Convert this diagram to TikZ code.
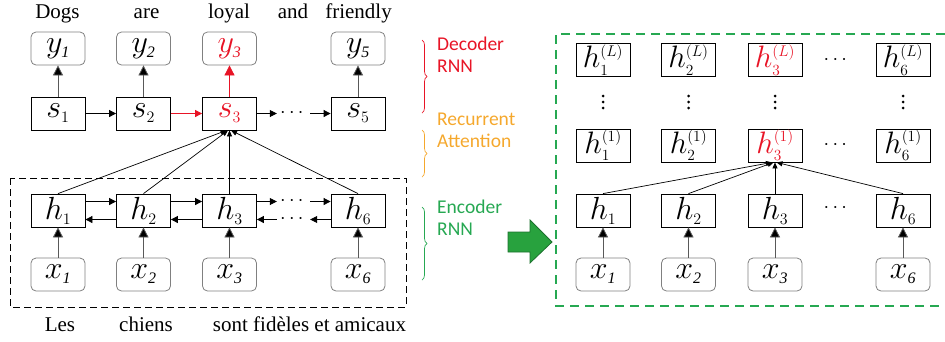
\RequirePackage{fix-cm}
\documentclass[tikz,border=0pt]{standalone}
\usepackage{amsmath}
\usepackage{fontspec}
\setmainfont{Liberation Serif}
\newfontfamily\labelfont{Carlito}
\usetikzlibrary{arrows.meta,decorations.pathreplacing}

\definecolor{decred}{RGB}{232,20,38}
\definecolor{attorange}{RGB}{245,168,45}
\definecolor{encgreen}{RGB}{38,168,82}
\definecolor{arrowfill}{RGB}{40,162,62}
\definecolor{arrowedge}{RGB}{28,112,45}

% state symbol with small upright index / small italic index / layer index
\newcommand\stv[2]{$#1_{\scriptscriptstyle #2}$}
\newcommand\obv[2]{$#1_{\scriptscriptstyle\mathit{#2}}$}
\newcommand\lyv[2]{$#1_{\scriptscriptstyle #2}^{\scriptscriptstyle (L)}$}
\newcommand\lyo[2]{$#1_{\scriptscriptstyle #2}^{\scriptscriptstyle (1)}$}

\begin{document}
\begin{tikzpicture}[x=1pt,y=-1pt,
  box/.style={draw,line width=0.8pt,minimum width=54pt,minimum height=33pt,
    inner sep=0pt,font=\fontsize{32}{34}\selectfont},
  lbox/.style={box,font=\fontsize{31}{34}\selectfont},
  rbox/.style={box,draw=black!50,rounded corners=5pt},
  word/.style={anchor=base,inner sep=0pt,font=\fontsize{21}{24}\selectfont},
  lab/.style={anchor=base west,inner sep=0pt,align=left,
    font=\labelfont\fontsize{19.5}{22}\selectfont},
  hdots/.style={minimum width=33pt,minimum height=0pt,inner sep=0pt,
    font=\fontsize{20}{20}\selectfont},
  dotmark/.style={fill=black,circle,inner sep=0pt,minimum size=3pt},
  vert/.style={line width=0.8pt,draw=black!65,-{Triangle[length=10pt,width=10pt,fill=black]}},
  horiz/.style={line width=0.8pt,-{Triangle[length=7pt,width=7pt]}},
  att/.style={line width=0.7pt,-{Triangle[length=6pt,width=5pt]}},
  brc/.style={line width=0.7pt,decorate,decoration={brace,amplitude=5pt}}]

\useasboundingbox (0,0) rectangle (945,341);

% ---------------- left: encoder-decoder ----------------
% target words
\node[word] (w1) at (57.5,18) {Dogs};
\node[word] (w2) at (146.5,18) {are};
\node[word] (w3) at (229,18) {loyal};
\node[word] (w4) at (293,18) {and};
\node[word] (w5) at (358.5,18) {friendly};

% outputs
\node[rbox] (y1) at (58,48.5) {\obv{y}{1}};
\node[rbox] (y2) at (143.5,48.5) {\obv{y}{2}};
\node[rbox,text=decred] (y3) at (229.5,48.5) {\obv{y}{3}};
\node[rbox] (y5) at (358,48.5) {\obv{y}{5}};

% decoder states
\node[box] (s1) at (58,113.5) {\stv{s}{1}};
\node[box] (s2) at (143.5,113.5) {\stv{s}{2}};
\node[box,text=decred] (s3) at (229.5,113.5) {\stv{s}{3}};
\node[hdots] (sd) at (293.5,113.5) {$\cdots$};
\node[box] (s5) at (358,113.5) {\stv{s}{5}};

% encoder states
\node[box] (h1) at (58,210.5) {\stv{h}{1}};
\node[box] (h2) at (143.5,210.5) {\stv{h}{2}};
\node[box] (h3) at (229.5,210.5) {\stv{h}{3}};
\node[hdots] (hu) at (293.5,201.5) {$\cdots$};
\node[hdots] (hl) at (293.5,219.5) {$\cdots$};
\node[box] (h6) at (358,210.5) {\stv{h}{6}};

% inputs
\node[rbox] (x1) at (58,274.5) {\obv{x}{1}};
\node[rbox] (x2) at (143.5,274.5) {\obv{x}{2}};
\node[rbox] (x3) at (229.5,274.5) {\obv{x}{3}};
\node[rbox] (x6) at (358,274.5) {\obv{x}{6}};

% source words
\node[word] (b1) at (60,331) {Les};
\node[word] (b2) at (146,331) {chiens};
\node[word] (b3) at (309.5,331) {sont fidèles et amicaux};

% decoder connections
\draw[vert] (s1) -- (y1);
\draw[vert] (s2) -- (y2);
\draw[vert,draw=decred,-{Triangle[length=10pt,width=10pt,fill=decred]}] (s3) -- (y3);
\draw[vert] (s5) -- (y5);
\draw[horiz] (s1) -- (s2);
\draw[horiz,decred] (s2) -- (s3);
\draw[horiz] (s3) -- (sd);
\draw[horiz] (sd) -- (s5);

% bidirectional encoder
\draw[horiz] ([yshift=9pt]h1.east) -- ([yshift=9pt]h2.west);
\draw[horiz] ([yshift=-9pt]h2.west) -- ([yshift=-9pt]h1.east);
\draw[horiz] ([yshift=9pt]h2.east) -- ([yshift=9pt]h3.west);
\draw[horiz] ([yshift=-9pt]h3.west) -- ([yshift=-9pt]h2.east);
\draw[horiz] ([yshift=9pt]h3.east) -- (hu.west);
\draw[horiz] (hu.east) -- ([yshift=9pt]h6.west);
\draw[horiz] ([yshift=-9pt]h6.west) -- (hl.east);
\draw[horiz] (hl.west) -- ([yshift=-9pt]h3.east);

% inputs to encoder
\draw[vert] (x1) -- (h1);
\draw[vert] (x2) -- (h2);
\draw[vert] (x3) -- (h3);
\draw[vert] (x6) -- (h6);

% attention into s3
\draw[att] (h1.north) -- ([xshift=-3pt]s3.south);
\draw[att] (h2.north) -- ([xshift=-1.5pt]s3.south);
\draw[att] (h3.north) -- (s3.south);
\draw[att] (h6.north) -- ([xshift=1.5pt]s3.south);

% encoder frame
\draw[line width=0.8pt,dash pattern=on 7pt off 4pt] (10,178) rectangle (406,307);

% ---------------- braces and labels ----------------
\draw[brc,decred] (422,40) -- (422,113);
\node[lab,text=decred] (dec) at (437,72) {Decoder\\RNN};
\draw[brc,attorange] (422,130) -- (422,177);
\node[lab,text=attorange] (att) at (437,147) {Recurrent\\Attention};
\draw[brc,encgreen] (422,207) -- (422,280);
\node[lab,text=encgreen] (enc) at (437,235) {Encoder\\RNN};

% transition arrow
\draw[line width=0.8pt,draw=arrowedge,fill=arrowfill]
  (508,232) -- (530,232) -- (530,220) -- (552,242) -- (530,263) -- (530,252) -- (508,252) -- cycle;

% ---------------- right: stacked recurrent attention ----------------
\draw[encgreen,line width=1.2pt,dash pattern=on 9pt off 6pt]
  (945,34) -- (556,34) -- (556,306) -- (945,306);

\node[lbox] (L1) at (603,60) {\lyv{h}{1}};
\node[lbox] (L2) at (688.5,60) {\lyv{h}{2}};
\node[lbox,text=decred] (L3) at (775,60) {\lyv{h}{3}};
\node[hdots] (Ld) at (837,60) {$\cdots$};
\node[lbox] (L6) at (903,60) {\lyv{h}{6}};

% vertical ellipses between the layers
\foreach \cx/\nm in {603/v1,688.5/v2,775/v3,903/v6}{
  \node[dotmark] (\nm a) at (\cx,96) {};
  \node[dotmark] (\nm b) at (\cx,102) {};
  \node[dotmark] (\nm c) at (\cx,108) {};
}

\node[lbox] (O1) at (603,145.5) {\lyo{h}{1}};
\node[lbox] (O2) at (688.5,145.5) {\lyo{h}{2}};
\node[lbox,text=decred] (O3) at (775,145.5) {\lyo{h}{3}};
\node[hdots] (Od) at (837,145.5) {$\cdots$};
\node[lbox] (O6) at (903,145.5) {\lyo{h}{6}};

\node[box] (r1) at (603,210.5) {\stv{h}{1}};
\node[box] (r2) at (688.5,210.5) {\stv{h}{2}};
\node[box] (r3) at (775,210.5) {\stv{h}{3}};
\node[hdots] (rd) at (837,208.5) {$\cdots$};
\node[box] (r6) at (903,210.5) {\stv{h}{6}};

\node[rbox] (q1) at (603,274.5) {\obv{x}{1}};
\node[rbox] (q2) at (688.5,274.5) {\obv{x}{2}};
\node[rbox] (q3) at (775,274.5) {\obv{x}{3}};
\node[rbox] (q6) at (903,274.5) {\obv{x}{6}};

\draw[vert] (q1) -- (r1);
\draw[vert] (q2) -- (r2);
\draw[vert] (q3) -- (r3);
\draw[vert] (q6) -- (r6);

\draw[att] (r1.north) -- ([xshift=-3pt]O3.south);
\draw[att] (r2.north) -- ([xshift=-1.5pt]O3.south);
\draw[att] (r3.north) -- (O3.south);
\draw[att] (r6.north) -- ([xshift=1.5pt]O3.south);

\end{tikzpicture}
\end{document}
